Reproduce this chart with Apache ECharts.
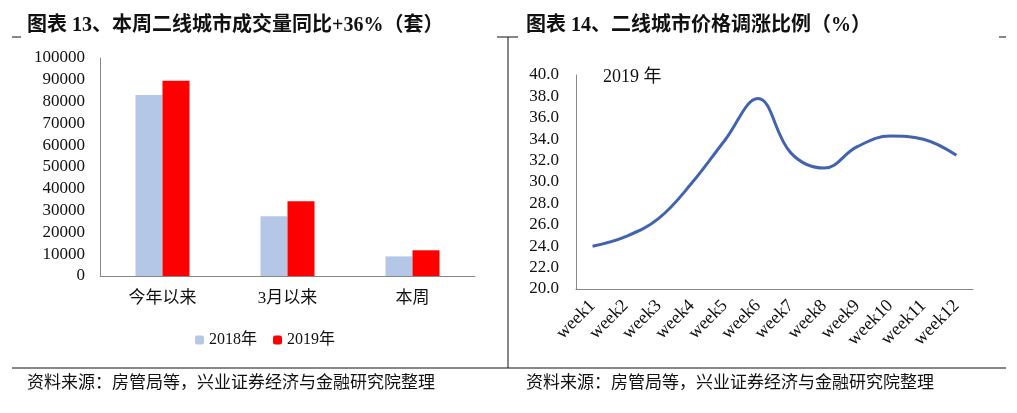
<!DOCTYPE html>
<html>
<head>
<meta charset="utf-8">
<script src="https://cdn.jsdelivr.net/npm/echarts@6/dist/echarts.min.js"></script>
<style>
  html, body { margin: 0; padding: 0; background: #fff; }
  #main { width: 1017px; height: 413px; }
</style>
</head>
<body>
<div id="main"></div>
<script>
var chart = echarts.init(document.getElementById('main'));

// 图表13 数据
var barCats = ['今年以来', '3月以来', '本周'];
var vol2018 = [83000, 27400, 9000];
var vol2019 = [89600, 34300, 11800];
var volTicks = [0, 100000, 10000];

// 图表14 数据
var weeks = ['week1', 'week2', 'week3', 'week4', 'week5', 'week6',
             'week7', 'week8', 'week9', 'week10', 'week11', 'week12'];
var priceUp = [24.0, 24.9, 26.6, 29.9, 33.9, 37.8, 32.7, 31.3, 33.3, 34.3, 34.0, 32.5];

var serif = '"Liberation Serif", "Noto Sans CJK SC", serif';

var option = {
  animation: false,
  backgroundColor: '#fff',
  title: [
    { text: '图表 13、本周二线城市成交量同比+36%（套）', left: 22, top: 11,
      textStyle: { fontFamily: serif, fontSize: 20, fontWeight: 'bold', color: '#111' } },
    { text: '图表 14、二线城市价格调涨比例（%）', left: 521, top: 11,
      textStyle: { fontFamily: serif, fontSize: 20, fontWeight: 'bold', color: '#111' } },
    { text: '资料来源：房管局等，兴业证券经济与金融研究院整理', left: 22, top: 370,
      textStyle: { fontFamily: serif, fontSize: 17, fontWeight: 'normal', color: '#111' } },
    { text: '资料来源：房管局等，兴业证券经济与金融研究院整理', left: 521, top: 370,
      textStyle: { fontFamily: serif, fontSize: 17, fontWeight: 'normal', color: '#111' } },
    { text: '2019 年', left: 598, top: 63,
      textStyle: { fontFamily: serif, fontSize: 18, fontWeight: 'normal', color: '#111' } }
  ],
  legend: {
    left: 190, top: 327,
    itemWidth: 9, itemHeight: 9, itemGap: 16,
    textStyle: { fontFamily: serif, fontSize: 16, color: '#111' },
    data: ['2018年', '2019年']
  },
  graphic: [
    { type: 'line', shape: { x1: 12, y1: 37, x2: 21, y2: 37 }, style: { stroke: '#111', lineWidth: 1 } },
    { type: 'line', shape: { x1: 497, y1: 37, x2: 503, y2: 37 }, style: { stroke: '#111', lineWidth: 1 } },
    { type: 'line', shape: { x1: 503, y1: 37, x2: 518, y2: 37 }, style: { stroke: '#111', lineWidth: 1 } },
    { type: 'line', shape: { x1: 999, y1: 37, x2: 1006, y2: 37 }, style: { stroke: '#111', lineWidth: 1 } },
    { type: 'line', shape: { x1: 508, y1: 37, x2: 508, y2: 368 }, style: { stroke: '#111', lineWidth: 1 } },
    { type: 'line', shape: { x1: 12, y1: 368, x2: 1006, y2: 368 }, style: { stroke: '#111', lineWidth: 1 } }
  ],
  grid: [
    { left: 100, top: 58, width: 375, height: 218 },
    { left: 576, top: 75, width: 397, height: 214 }
  ],
  xAxis: [
    {
      type: 'category', gridIndex: 0, data: barCats,
      axisLine: { lineStyle: { color: '#888' } },
      axisTick: { show: false },
      axisLabel: { fontFamily: serif, fontSize: 17, color: '#111', margin: 14 }
    },
    {
      type: 'category', gridIndex: 1, data: weeks, boundaryGap: true,
      axisLine: { lineStyle: { color: '#888' } },
      axisTick: { show: false },
      axisLabel: { fontFamily: serif, fontSize: 18, color: '#111', rotate: 45, margin: 14, interval: 0 }
    }
  ],
  yAxis: [
    {
      type: 'value', gridIndex: 0,
      min: volTicks[0], max: volTicks[1], interval: volTicks[2],
      axisLine: { show: true, lineStyle: { color: '#888' } },
      axisTick: { show: false },
      splitLine: { show: false },
      axisLabel: { fontFamily: serif, fontSize: 17, color: '#111', margin: 15,
        formatter: function (v) { return String(v); } }
    },
    {
      type: 'value', gridIndex: 1, min: 20, max: 40, interval: 2,
      axisLine: { show: true, lineStyle: { color: '#888' } },
      axisTick: { show: false },
      splitLine: { show: false },
      axisLabel: { fontFamily: serif, fontSize: 17, color: '#111', margin: 17,
        formatter: function (v) { return v.toFixed(1); } }
    }
  ],
  series: [
    {
      name: '2018年', type: 'bar', xAxisIndex: 0, yAxisIndex: 0,
      data: vol2018, barWidth: 27, barGap: '0%',
      itemStyle: { color: '#b4c7e7' }
    },
    {
      name: '2019年', type: 'bar', xAxisIndex: 0, yAxisIndex: 0,
      data: vol2019, barWidth: 27,
      itemStyle: { color: '#ff0000' }
    },
    {
      name: '价格调涨比例', type: 'line', xAxisIndex: 1, yAxisIndex: 1,
      data: priceUp, smooth: 0.4, symbol: 'none',
      lineStyle: { color: '#4163b0', width: 3 }
    }
  ]
};
chart.setOption(option);
</script>
</body>
</html>
